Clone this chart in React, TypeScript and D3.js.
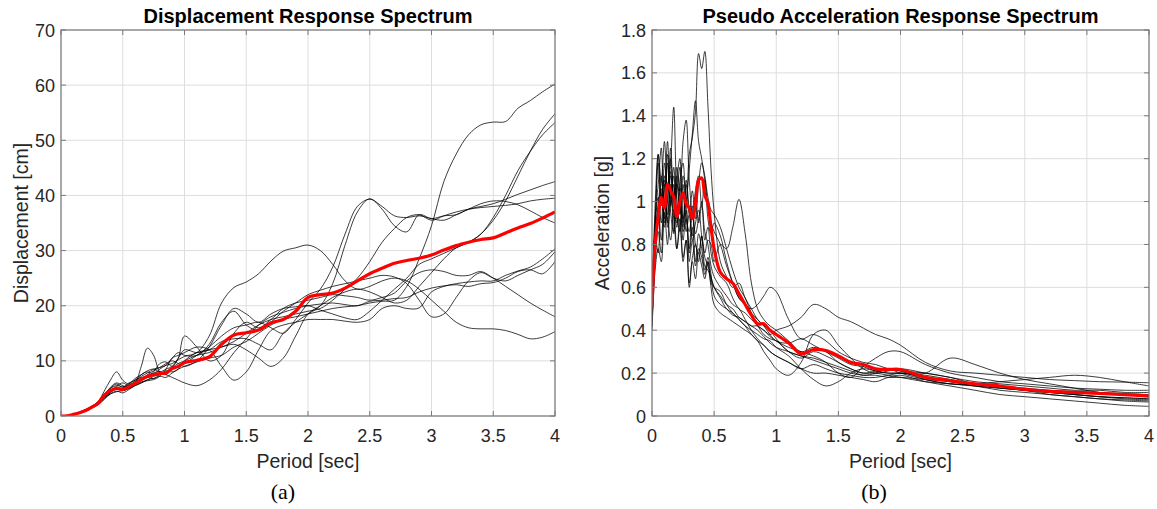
import React from "react";
import * as d3 from "d3";

// ---------- Displacement spectrum (cm) ----------
const PERIOD_D = [0, 0.05, 0.1, 0.15, 0.2, 0.25, 0.3, 0.35, 0.4, 0.45, 0.5, 0.55, 0.6, 0.65, 0.7, 0.75, 0.8, 0.85, 0.9, 0.95, 1.0,
  1.1, 1.2, 1.3, 1.4, 1.5, 1.6, 1.7, 1.8, 1.9, 2.0,
  2.1, 2.2, 2.3, 2.4, 2.5, 2.6, 2.7, 2.8, 2.9, 3.0,
  3.1, 3.2, 3.3, 3.4, 3.5, 3.6, 3.7, 3.8, 3.9, 4.0];

const DISP_REC_1 = [0, 0.05, 0.25, 0.6, 1.0, 1.5, 2.2, 3.2, 4.3, 4.9, 4.6, 5.0, 5.5, 6.0, 6.6, 6.8, 7.2, 7.0, 7.8, 8.5, 9.0,
  9.8, 10.5, 11.0, 12.5, 13.5, 15.0, 16.5, 17.5, 18.0, 18.5,
  19.0, 19.5, 19.8, 20.0, 20.5, 20.8, 21.0, 23.5, 28.5, 34.5,
  42.5, 47.5, 51.0, 52.8, 53.3, 53.4, 55.8, 57.2, 58.8, 60.2];
const DISP_REC_2 = [0, 0.05, 0.3, 0.65, 1.1, 1.7, 2.5, 3.8, 5.0, 5.8, 5.2, 6.0, 6.5, 7.5, 8.0, 7.6, 8.5, 9.2, 9.5, 10.2, 10.8,
  11.5, 14.5, 20.5, 23.3, 24.3, 25.8, 28.1, 29.9, 30.5, 31.0,
  30.0, 27.5, 24.5, 23.0, 23.5, 24.5, 25.0, 24.5, 23.0, 21.0,
  19.0, 17.0, 16.0, 15.8, 15.8, 15.5, 14.8, 14.0, 14.3, 15.3];
const DISP_REC_3 = [0, 0.05, 0.3, 0.7, 1.2, 1.8, 2.6, 4.5, 6.5, 8.0, 6.5, 5.8, 6.5, 7.0, 7.2, 8.0, 9.5, 9.8, 9.0, 10.5, 12.0,
  11.5, 12.0, 13.5, 14.0, 14.0, 13.0, 12.0, 15.0, 17.0, 18.5,
  20.0, 24.0, 31.0, 37.0, 39.4, 37.5, 34.5, 33.4, 36.5, 35.8,
  36.3, 36.5, 37.5, 38.0, 38.5, 39.3, 40.2, 41.0, 41.8, 42.5];
const DISP_REC_4 = [0, 0.05, 0.25, 0.6, 1.0, 1.6, 2.3, 3.5, 4.5, 4.8, 5.0, 5.5, 6.0, 9.0, 12.3, 11.0, 8.0, 7.5, 8.5, 9.0, 9.5,
  11.0, 12.5, 14.5, 16.0, 16.5, 17.0, 16.0, 15.0, 17.5, 20.5,
  23.0, 27.0, 33.0, 38.0, 39.3, 38.0, 36.3, 36.0, 36.3, 35.8,
  35.5, 36.5, 37.5, 38.5, 39.0, 38.9, 38.3, 37.2, 36.0, 35.0];
const DISP_REC_5 = [0, 0.05, 0.2, 0.5, 0.9, 1.5, 2.0, 3.0, 4.0, 4.5, 4.2, 4.8, 5.5, 6.0, 6.5, 7.2, 7.5, 8.0, 8.8, 9.5, 10.0,
  11.0, 11.5, 12.5, 13.5, 15.0, 16.5, 17.5, 18.0, 18.5, 19.0,
  19.5, 21.0, 23.0, 25.0, 28.0, 31.5, 34.0, 36.0, 36.5, 35.5,
  36.3, 37.0, 37.5, 37.8, 38.0, 38.2, 38.5, 39.0, 39.3, 39.5];
const DISP_REC_6 = [0, 0.05, 0.3, 0.65, 1.1, 1.7, 2.5, 3.8, 5.2, 6.0, 5.5, 5.2, 5.8, 6.5, 7.5, 8.2, 8.8, 9.5, 10.0, 9.5, 9.0,
  10.0, 12.5, 16.5, 19.5, 18.5, 17.0, 18.5, 19.5, 19.8, 20.0,
  19.2, 18.5, 17.8, 17.5, 19.0, 21.0, 23.0, 25.0, 27.5, 28.5,
  29.5, 30.5, 31.5, 33.0, 35.5, 39.0, 43.5, 48.0, 52.0, 54.8];
const DISP_REC_7 = [0, 0.05, 0.25, 0.6, 1.0, 1.6, 2.3, 3.4, 4.2, 5.0, 4.8, 5.5, 6.2, 6.8, 7.0, 6.8, 7.5, 8.2, 8.0, 8.5, 10.0,
  11.5, 12.0, 12.5, 13.0, 12.0, 10.5, 9.0, 10.5, 14.5, 18.5,
  20.0, 21.5, 22.5, 23.0, 22.5, 21.5, 20.5, 21.0, 23.5, 26.0,
  28.5, 30.5, 31.5, 33.0, 36.0, 40.0, 44.5, 48.0, 51.0, 53.2];
const DISP_REC_8 = [0, 0.05, 0.2, 0.55, 0.95, 1.5, 2.1, 3.2, 4.0, 4.4, 4.6, 5.0, 5.6, 6.2, 6.4, 6.6, 7.2, 8.5, 10.5, 11.0, 11.5,
  12.5, 12.0, 9.0, 6.5, 8.0, 12.0, 15.5, 16.5, 17.0, 17.5,
  17.5, 17.5, 17.2, 17.0, 17.5, 19.5, 20.0, 19.5, 19.6, 22.5,
  23.5, 24.0, 24.3, 24.5, 24.5, 25.5, 26.3, 27.0, 28.5, 30.3];
const DISP_REC_9 = [0, 0.05, 0.3, 0.65, 1.1, 1.7, 2.6, 3.6, 4.4, 5.4, 6.0, 5.5, 6.3, 7.2, 7.8, 8.5, 8.8, 9.2, 10.5, 11.5, 11.0,
  11.0, 13.0, 17.0, 19.0, 16.5, 15.5, 17.0, 19.0, 20.5, 22.0,
  22.8, 23.5, 24.0, 24.5, 25.0, 25.5, 25.2, 24.0, 21.0, 18.0,
  18.5, 21.5, 24.5, 26.0, 25.0, 24.5, 25.5, 26.5, 27.5, 29.8];
const DISP_REC_10 = [0, 0.05, 0.25, 0.6, 1.05, 1.6, 2.4, 3.5, 4.5, 5.2, 5.0, 5.6, 6.0, 6.5, 7.0, 7.8, 8.0, 7.5, 7.0, 6.5, 6.0,
  5.5, 6.5, 8.5, 11.5, 14.0, 16.5, 18.0, 18.8, 19.5, 20.0,
  20.3, 20.5, 20.2, 20.0, 20.8, 21.0, 21.3, 21.5, 22.5, 23.2,
  23.6, 23.8, 23.5, 24.0, 24.2, 25.0, 26.2, 26.5, 25.8, 28.0];
const DISP_REC_11 = [0, 0.05, 0.3, 0.7, 1.15, 1.7, 2.5, 3.8, 5.0, 5.5, 5.3, 5.8, 6.8, 7.5, 8.2, 8.5, 8.0, 8.5, 9.0, 10.5, 14.5,
  12.5, 10.0, 11.0, 15.0, 17.0, 16.0, 17.5, 19.5, 20.5, 21.0,
  21.5, 22.0, 21.8, 21.5, 21.0, 21.5, 22.3, 24.5, 26.0, 26.5,
  26.2, 25.5, 25.5, 26.2, 25.0, 23.5, 22.0, 20.5, 19.2, 18.0];
const DISP_MEAN = [0, 0.05, 0.3, 0.6, 1.0, 1.6, 2.3, 3.8, 4.6, 5.0, 4.8, 5.3, 5.9, 6.6, 7.2, 7.5, 7.7, 7.8, 8.6, 9.0, 9.7,
  10.1, 10.7, 13.0, 14.7, 15.1, 15.6, 16.9, 17.5, 19.0, 21.5,
  22.0, 22.3, 23.2, 24.5, 25.8, 26.8, 27.7, 28.2, 28.6, 29.2,
  30.1, 30.9, 31.5, 32.0, 32.3, 33.2, 34.1, 34.9, 35.9, 37.0];
const DISP_RECORDS = [DISP_REC_1, DISP_REC_2, DISP_REC_3, DISP_REC_4, DISP_REC_5, DISP_REC_6,
  DISP_REC_7, DISP_REC_8, DISP_REC_9, DISP_REC_10, DISP_REC_11];

// ---------- Pseudo acceleration spectrum (g) ----------
const PERIOD_A = [0, 0.025, 0.05, 0.075, 0.1, 0.125, 0.15, 0.175, 0.2, 0.225, 0.25, 0.275, 0.3, 0.325, 0.35, 0.375, 0.4, 0.425, 0.45, 0.475, 0.5,
  0.55, 0.6, 0.65, 0.7, 0.75, 0.8, 0.85, 0.9, 0.95, 1.0,
  1.1, 1.2, 1.3, 1.4, 1.5, 1.6, 1.7, 1.8, 1.9, 2.0,
  2.2, 2.4, 2.6, 2.8, 3.0, 3.2, 3.4, 3.6, 3.8, 4.0];

const ACC_REC_1 = [0.42, 0.78, 0.95, 0.82, 1.08, 0.9, 1.12, 1.0, 0.88, 1.1, 1.18, 0.98, 1.22, 1.3, 1.42, 1.69, 1.62, 1.70, 1.45, 1.15, 0.95,
  0.72, 0.65, 0.6, 0.62, 0.55, 0.5, 0.45, 0.42, 0.4, 0.36,
  0.3, 0.27, 0.3, 0.28, 0.25, 0.22, 0.2, 0.2, 0.19, 0.18,
  0.16, 0.15, 0.14, 0.13, 0.12, 0.11, 0.1, 0.09, 0.085, 0.08];
const ACC_REC_2 = [0.5, 0.88, 1.22, 0.98, 1.05, 1.28, 0.95, 0.85, 1.1, 1.2, 0.92, 1.0, 1.15, 1.32, 1.47, 1.28, 1.2, 1.1, 0.98, 0.9, 0.86,
  0.8, 0.7, 0.62, 0.55, 0.52, 0.48, 0.45, 0.42, 0.38, 0.35,
  0.34, 0.36, 0.33, 0.3, 0.27, 0.24, 0.23, 0.21, 0.2, 0.2,
  0.19, 0.17, 0.15, 0.14, 0.13, 0.12, 0.115, 0.11, 0.105, 0.1];
const ACC_REC_3 = [0.48, 0.92, 1.08, 1.25, 0.9, 1.02, 1.18, 1.44, 1.02, 0.88, 1.12, 1.0, 0.78, 0.95, 0.85, 0.92, 1.0, 0.82, 0.88, 0.76, 0.7,
  0.65, 0.62, 0.55, 0.5, 0.48, 0.45, 0.42, 0.38, 0.36, 0.35,
  0.3, 0.28, 0.26, 0.24, 0.22, 0.2, 0.19, 0.19, 0.18, 0.18,
  0.17, 0.16, 0.15, 0.13, 0.12, 0.11, 0.1, 0.09, 0.085, 0.08];
const ACC_REC_4 = [0.4, 0.68, 0.78, 0.72, 0.95, 0.8, 1.02, 0.92, 0.78, 0.88, 0.72, 0.82, 0.62, 0.74, 0.8, 0.72, 0.84, 0.76, 0.82, 0.8, 0.72,
  0.8, 0.78, 0.88, 1.01, 0.85, 0.62, 0.5, 0.45, 0.42, 0.4,
  0.35, 0.3, 0.32, 0.3, 0.25, 0.22, 0.2, 0.21, 0.22, 0.2,
  0.17, 0.15, 0.14, 0.12, 0.11, 0.1, 0.09, 0.08, 0.075, 0.07];
const ACC_REC_5 = [0.52, 0.98, 1.22, 1.1, 1.28, 1.05, 1.2, 1.0, 1.16, 1.05, 1.28, 1.38, 1.1, 0.95, 1.05, 1.12, 0.98, 1.1, 0.92, 0.85, 0.9,
  0.84, 0.72, 0.62, 0.55, 0.52, 0.5, 0.52, 0.56, 0.6, 0.58,
  0.45, 0.36, 0.38, 0.35, 0.3, 0.27, 0.25, 0.24, 0.22, 0.21,
  0.2, 0.18, 0.16, 0.15, 0.14, 0.13, 0.12, 0.12, 0.11, 0.11];
const ACC_REC_6 = [0.45, 0.82, 0.98, 1.12, 0.92, 1.18, 0.98, 1.08, 0.9, 0.98, 0.82, 0.96, 0.76, 0.88, 0.72, 0.85, 0.78, 0.68, 0.74, 0.66, 0.56,
  0.52, 0.5, 0.47, 0.46, 0.44, 0.42, 0.42, 0.4, 0.38, 0.4,
  0.42, 0.46, 0.52, 0.5, 0.46, 0.44, 0.41, 0.38, 0.36, 0.33,
  0.25, 0.21, 0.2, 0.19, 0.18, 0.17, 0.165, 0.16, 0.158, 0.155];
const ACC_REC_7 = [0.5, 0.88, 1.02, 0.9, 1.18, 1.06, 1.25, 1.02, 1.12, 0.94, 1.04, 0.86, 0.94, 0.82, 0.9, 0.96, 0.84, 0.74, 0.7, 0.65, 0.6,
  0.55, 0.5, 0.48, 0.45, 0.42, 0.4, 0.38, 0.36, 0.35, 0.32,
  0.28, 0.22, 0.17, 0.14, 0.16, 0.2, 0.22, 0.21, 0.2, 0.2,
  0.18, 0.16, 0.14, 0.13, 0.12, 0.1, 0.09, 0.08, 0.07, 0.065];
const ACC_REC_8 = [0.45, 0.84, 0.76, 1.1, 1.0, 1.22, 1.02, 1.12, 0.92, 1.06, 0.86, 0.92, 0.72, 0.82, 0.7, 0.78, 0.74, 0.66, 0.72, 0.62, 0.6,
  0.58, 0.52, 0.48, 0.45, 0.42, 0.38, 0.35, 0.3, 0.26, 0.22,
  0.19, 0.25, 0.38, 0.4, 0.33, 0.27, 0.22, 0.2, 0.21, 0.22,
  0.2, 0.18, 0.15, 0.14, 0.12, 0.11, 0.1, 0.09, 0.08, 0.075];
const ACC_REC_9 = [0.48, 0.82, 0.98, 1.06, 0.88, 1.0, 1.14, 0.96, 1.04, 1.16, 0.9, 1.08, 0.94, 1.05, 0.92, 1.08, 1.18, 1.12, 1.02, 0.96, 0.94,
  0.88, 0.78, 0.68, 0.6, 0.55, 0.48, 0.42, 0.4, 0.37, 0.35,
  0.32, 0.3, 0.28, 0.25, 0.2, 0.18, 0.23, 0.27, 0.3, 0.3,
  0.24, 0.2, 0.18, 0.16, 0.15, 0.14, 0.13, 0.125, 0.12, 0.12];
const ACC_REC_10 = [0.5, 0.86, 1.18, 1.02, 1.12, 0.94, 1.08, 0.86, 1.08, 1.02, 0.88, 1.1, 0.96, 0.84, 1.02, 0.9, 0.98, 0.86, 0.8, 0.7, 0.65,
  0.6, 0.56, 0.52, 0.5, 0.45, 0.4, 0.36, 0.33, 0.3, 0.28,
  0.25, 0.22, 0.24, 0.22, 0.2, 0.19, 0.18, 0.18, 0.19, 0.2,
  0.2, 0.27, 0.24, 0.2, 0.17, 0.15, 0.13, 0.11, 0.1, 0.09];
const ACC_REC_11 = [0.47, 0.8, 0.92, 1.02, 1.1, 0.88, 1.0, 1.16, 0.94, 0.86, 1.08, 0.92, 0.86, 0.98, 0.8, 0.76, 0.84, 0.7, 0.68, 0.64, 0.6,
  0.56, 0.52, 0.5, 0.46, 0.44, 0.42, 0.4, 0.37, 0.34, 0.32,
  0.3, 0.28, 0.27, 0.25, 0.23, 0.21, 0.19, 0.2, 0.22, 0.21,
  0.17, 0.15, 0.15, 0.16, 0.17, 0.18, 0.19, 0.18, 0.16, 0.14];
const ACC_REC_12 = [0.42, 0.72, 0.86, 0.76, 0.98, 0.92, 0.82, 0.96, 0.78, 0.92, 0.74, 0.82, 0.6, 0.72, 0.64, 0.76, 0.7, 0.64, 0.72, 0.6, 0.52,
  0.48, 0.46, 0.44, 0.42, 0.4, 0.38, 0.35, 0.33, 0.3, 0.28,
  0.25, 0.22, 0.2, 0.2, 0.19, 0.18, 0.17, 0.16, 0.18, 0.19,
  0.16, 0.14, 0.12, 0.1, 0.09, 0.08, 0.07, 0.06, 0.05, 0.045];
const ACC_MEAN = [0.51, 0.8, 0.93, 1.02, 0.97, 1.08, 1.05, 1.02, 0.93, 1.0, 1.04, 0.99, 0.97, 0.92, 0.99, 1.1, 1.11, 1.03, 0.99, 0.88, 0.78,
  0.67, 0.64, 0.62, 0.57, 0.52, 0.47, 0.43, 0.43, 0.4, 0.38,
  0.34, 0.29, 0.31, 0.305, 0.28, 0.25, 0.24, 0.22, 0.217, 0.217,
  0.18, 0.165, 0.15, 0.14, 0.124, 0.115, 0.11, 0.105, 0.1, 0.093];
const ACC_RECORDS = [ACC_REC_1, ACC_REC_2, ACC_REC_3, ACC_REC_4, ACC_REC_5, ACC_REC_6,
  ACC_REC_7, ACC_REC_8, ACC_REC_9, ACC_REC_10, ACC_REC_11, ACC_REC_12];

// ---------- Axes ----------
const PERIOD_TICKS = [0, 0.5, 1, 1.5, 2, 2.5, 3, 3.5, 4];
const DISP_TICKS = [0, 10, 20, 30, 40, 50, 60, 70];
const ACC_TICKS = [0, 0.2, 0.4, 0.6, 0.8, 1, 1.2, 1.4, 1.6, 1.8];

const SANS = "'Liberation Sans', Arial, Helvetica, sans-serif";
const SERIF = "'Liberation Serif', 'Times New Roman', serif";
const TEXT = "#262626";

type PanelProps = {
  id: string;
  left: number; right: number; top: number; bottom: number;
  periods: number[]; records: number[][]; mean: number[];
  yMax: number; yTicks: number[];
  title: string; yLabel: string; yLabelX: number;
  caption: string; captionX: number;
};

function Panel(p: PanelProps) {
  const x = d3.scaleLinear().domain([0, 4]).range([p.left, p.right]);
  const y = d3.scaleLinear().domain([0, p.yMax]).range([p.bottom, p.top]);
  const line = d3.line<number>()
    .x((_, i) => x(p.periods[i]))
    .y((d) => y(d))
    .curve(d3.curveCatmullRom.alpha(0.5));
  const fmt = d3.format("~g");
  const tickLen = 5;
  const cx = (p.left + p.right) / 2;
  const cy = (p.top + p.bottom) / 2;
  return (
    <g>
      <defs>
        <clipPath id={p.id}>
          <rect x={p.left} y={p.top} width={p.right - p.left} height={p.bottom - p.top} />
        </clipPath>
      </defs>
      <rect x={p.left} y={p.top} width={p.right - p.left} height={p.bottom - p.top} fill="#fff" />
      {PERIOD_TICKS.map((t) => (
        <line key={"gx" + t} x1={x(t)} x2={x(t)} y1={p.top} y2={p.bottom} stroke="#dedede" strokeWidth={1} />
      ))}
      {p.yTicks.map((t) => (
        <line key={"gy" + t} x1={p.left} x2={p.right} y1={y(t)} y2={y(t)} stroke="#dedede" strokeWidth={1} />
      ))}
      <g clipPath={`url(#${p.id})`}>
        {p.records.map((r, i) => (
          <path key={i} d={line(r) || ""} fill="none" stroke="#000" strokeWidth={0.9} strokeOpacity={0.85} />
        ))}
        <path d={line(p.mean) || ""} fill="none" stroke="#ff0000" strokeWidth={3.2} strokeLinejoin="round" />
      </g>
      <rect x={p.left} y={p.top} width={p.right - p.left} height={p.bottom - p.top} fill="none" stroke="#7a7a7a" strokeWidth={1.2} />
      {PERIOD_TICKS.map((t) => (
        <g key={"tx" + t}>
          <line x1={x(t)} x2={x(t)} y1={p.bottom} y2={p.bottom - tickLen} stroke="#7a7a7a" />
          <line x1={x(t)} x2={x(t)} y1={p.top} y2={p.top + tickLen} stroke="#7a7a7a" />
          <text x={x(t)} y={p.bottom + 26} textAnchor="middle" fontFamily={SANS} fontSize={18} fill={TEXT}>{fmt(t)}</text>
        </g>
      ))}
      {p.yTicks.map((t) => (
        <g key={"ty" + t}>
          <line x1={p.left} x2={p.left + tickLen} y1={y(t)} y2={y(t)} stroke="#7a7a7a" />
          <line x1={p.right} x2={p.right - tickLen} y1={y(t)} y2={y(t)} stroke="#7a7a7a" />
          <text x={p.left - 6} y={y(t) + 6.5} textAnchor="end" fontFamily={SANS} fontSize={18} fill={TEXT}>{fmt(t)}</text>
        </g>
      ))}
      <text x={cx} y={23} textAnchor="middle" fontFamily={SANS} fontWeight="bold" fontSize={20} fill="#000">{p.title}</text>
      <text x={cx} y={468} textAnchor="middle" fontFamily={SANS} fontSize={19.5} fill={TEXT}>Period [sec]</text>
      <text transform={`translate(${p.yLabelX},${cy}) rotate(-90)`} textAnchor="middle" fontFamily={SANS} fontSize={19.5} fill={TEXT}>{p.yLabel}</text>
      <text x={p.captionX} y={499} textAnchor="middle" fontFamily={SERIF} fontSize={22} fill="#000">{p.caption}</text>
    </g>
  );
}

export default function App() {
  return (
    <svg width={1157} height={509} viewBox="0 0 1157 509"
      style={{ position: "absolute", left: 0, top: 0, background: "#fff" }}>
      <rect x={0} y={0} width={1157} height={509} fill="#fff" />
      <Panel id="clipD" left={61} right={555} top={30} bottom={416}
        periods={PERIOD_D} records={DISP_RECORDS} mean={DISP_MEAN}
        yMax={70} yTicks={DISP_TICKS}
        title="Displacement Response Spectrum" yLabel="Displacement [cm]" yLabelX={28}
        caption="(a)" captionX={283} />
      <Panel id="clipA" left={652} right={1149} top={30} bottom={416}
        periods={PERIOD_A} records={ACC_RECORDS} mean={ACC_MEAN}
        yMax={1.8} yTicks={ACC_TICKS}
        title="Pseudo Acceleration Response Spectrum" yLabel="Acceleration [g]" yLabelX={609}
        caption="(b)" captionX={874} />
    </svg>
  );
}
